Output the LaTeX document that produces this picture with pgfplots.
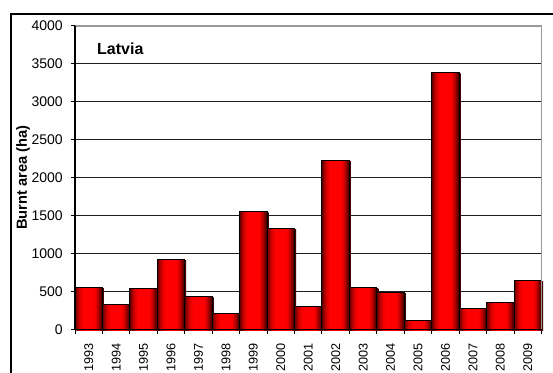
\documentclass[border=0pt]{standalone}
\usepackage{fontspec}
\setmainfont{Liberation Sans}
\usepackage{pgfplots}
\pgfplotsset{compat=1.18}
\definecolor{bdark}{HTML}{5A0000}
\definecolor{btwo}{HTML}{950000}
\definecolor{bthree}{HTML}{D80000}
\definecolor{bred}{HTML}{FF0000}
\definecolor{bfour}{HTML}{C00000}
\definecolor{bfive}{HTML}{700000}
\definecolor{bsix}{HTML}{250000}
\definecolor{gridc}{HTML}{1E1E1E}
\pgfdeclarehorizontalshading{barshade}{100bp}{color(0bp)=(bdark); color(25bp)=(bdark); color(28bp)=(btwo); color(33bp)=(bthree); color(40bp)=(bred); color(60bp)=(bred); color(66bp)=(bfour); color(71bp)=(bfive); color(75bp)=(bsix); color(100bp)=(bsix)}
\pgfplotsset{mybar/.style={ybar, bar width=1, bar shift=0pt, draw=black, line width=0.75pt, shade, shading=barshade,
  preaction={draw=none, fill=gray!65, transform canvas={xshift=1.1pt, yshift=-0.7pt}}}}
\begin{document}
\begin{tikzpicture}
\useasboundingbox (0pt,0pt) rectangle (414.75pt,279pt);
\draw[black, line width=0.9pt] (8.25pt,-5pt) -- (8.25pt,268.5pt) -- (420pt,268.5pt);
\begin{axis}[
  at={(56.25pt,31.875pt)}, anchor=south west,
  scale only axis, width=349.9pt, height=227.85pt,
  xmin=-0.5, xmax=16.5, ymin=0, ymax=4000,
  ytick={0,500,...,4000},
  xtick={-0.5,0.5,...,16.5},
  x tick label as interval,
  xticklabels={1993,1994,1995,1996,1997,1998,1999,2000,2001,2002,2003,2004,2005,2006,2007,2008,2009},
  axis line style={draw=none},
  tick pos=left,
  tick align=outside,
  major tick length=3pt,
  tick style={black, line width=0.75pt},
  ymajorgrids,
  major grid style={gridc, line width=0.75pt},
  /pgf/number format/assume math mode=true,
  /pgf/number format/1000 sep={},
  yticklabel style={font=\fontsize{10.5}{12}\selectfont, inner sep=0pt, anchor=east},
  xticklabel style={font=\fontsize{9.5}{11}\selectfont, inner sep=0pt, rotate=90, anchor=east},
  yticklabel shift=6pt,
  xticklabel shift=7.5pt,
  ylabel={Burnt area (ha)},
  every axis y label/.style={at={(rel axis cs:0,0.5)}, xshift=-39pt, rotate=90, anchor=center, font=\bfseries\fontsize{11}{13}\selectfont},
  clip=false,
]
\addplot[mybar] coordinates {(0,555)};
\addplot[mybar] coordinates {(1,335)};
\addplot[mybar] coordinates {(2,542)};
\addplot[mybar] coordinates {(3,922)};
\addplot[mybar] coordinates {(4,432)};
\addplot[mybar] coordinates {(5,205)};
\addplot[mybar] coordinates {(6,1552)};
\addplot[mybar] coordinates {(7,1330)};
\addplot[mybar] coordinates {(8,305)};
\addplot[mybar] coordinates {(9,2222)};
\addplot[mybar] coordinates {(10,552)};
\addplot[mybar] coordinates {(11,487)};
\addplot[mybar] coordinates {(12,118)};
\addplot[mybar] coordinates {(13,3382)};
\addplot[mybar] coordinates {(14,276)};
\addplot[mybar] coordinates {(15,362)};
\addplot[mybar] coordinates {(16,646)};
\draw[gray!80, line width=1.3pt] (rel axis cs:0,1) -- (rel axis cs:1,1) -- (rel axis cs:1,0);
\draw[black, line width=0.9pt] (rel axis cs:0,1) -- (rel axis cs:0,0) -- (rel axis cs:1,0);
\node[anchor=west, inner sep=0pt, font=\bfseries\fontsize{12}{14}\selectfont] at (rel axis cs:0.047,0.925) {Latvia};
\end{axis}
\end{tikzpicture}
\end{document}
